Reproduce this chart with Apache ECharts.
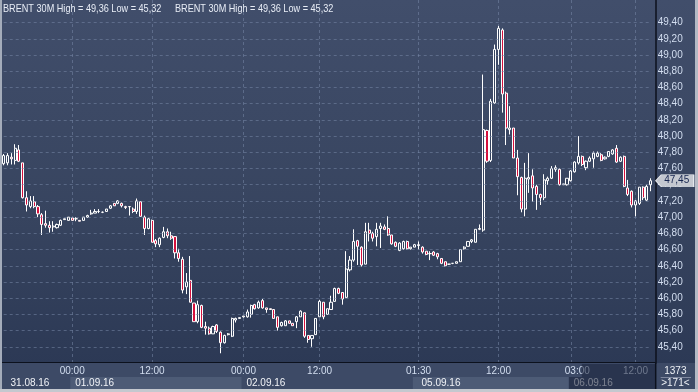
<!DOCTYPE html>
<html>
<head>
<meta charset="utf-8">
<script src="https://cdn.jsdelivr.net/npm/echarts@6/dist/echarts.min.js"></script>
<style>
html,body{margin:0;padding:0;background:#2e3b56;}
#c{width:698px;height:392px;background:linear-gradient(to bottom,#414e6b 0%,#37445f 55%,#2c3955 93%);}
</style>
</head>
<body>
<div id="c"></div>
<script>
const FONT = "'Liberation Sans',Arial,sans-serif";
const instrument = 'BRENT 30M';

const opens = [47.66,47.67,47.74,47.70,47.83,47.67,47.24,47.13,47.19,47.13,47.03,46.92,46.90,46.88,46.87,46.90,46.97,46.96,46.99,46.98,
46.96,46.96,47.00,47.04,47.05,47.07,47.06,47.07,47.11,47.17,47.17,47.17,47.13,47.13,47.10,47.07,47.19,47.00,46.86,46.96,
46.71,46.66,46.75,46.82,46.77,46.76,46.56,46.48,46.14,46.22,45.94,45.71,45.91,45.65,45.63,45.56,45.67,45.58,45.45,45.55,
45.53,45.73,45.75,45.77,45.77,45.80,45.92,45.88,45.97,45.88,45.87,45.86,45.77,45.66,45.66,45.72,45.69,45.71,45.77,45.82,
45.54,45.50,45.55,45.77,45.95,45.80,45.86,45.96,46.12,46.07,46.01,46.35,46.47,46.71,46.63,46.42,46.84,46.80,46.76,46.86,
46.88,46.86,46.78,46.69,46.59,46.61,46.70,46.61,46.63,46.65,46.63,46.58,46.55,46.57,46.55,46.49,46.45,46.42,46.43,46.43,
46.45,46.61,46.64,46.70,46.69,46.85,46.84,48.07,47.70,48.41,49.07,49.31,48.53,48.08,48.10,47.73,47.49,47.10,47.47,47.51,
47.38,47.28,47.24,47.45,47.48,47.59,47.59,47.40,47.40,47.45,47.56,47.67,47.75,47.61,47.69,47.72,47.75,47.77,47.72,47.75,
47.78,47.85,47.69,47.75,47.36,47.32,47.15,47.17,47.37,47.21,47.40];

const closes = [47.76,47.76,47.72,47.85,47.69,47.24,47.15,47.20,47.13,47.04,46.91,46.90,46.87,46.89,46.91,46.96,46.98,47.00,46.96,46.98,
46.95,47.00,47.02,47.05,47.07,47.07,47.06,47.10,47.14,47.14,47.20,47.14,47.12,47.13,47.07,47.20,47.01,46.86,46.98,46.69,
46.67,46.74,46.82,46.77,46.74,46.56,46.49,46.10,46.20,45.95,45.71,45.92,45.64,45.63,45.56,45.65,45.59,45.45,45.54,45.56,
45.75,45.75,45.76,45.78,45.83,45.91,45.87,45.95,45.88,45.86,45.86,45.75,45.64,45.70,45.72,45.69,45.66,45.77,45.84,45.53,
45.49,45.54,45.75,45.96,45.77,45.87,45.95,46.12,46.06,45.99,46.36,46.47,46.70,46.64,46.41,46.82,46.80,46.74,46.85,46.89,
46.85,46.78,46.67,46.64,46.68,46.70,46.61,46.63,46.66,46.66,46.57,46.54,46.55,46.53,46.51,46.43,46.40,46.42,46.43,46.45,
46.60,46.63,46.70,46.72,46.85,46.86,48.08,47.69,48.43,49.07,49.33,48.52,48.10,48.10,47.73,47.50,47.10,47.48,47.49,47.36,
47.28,47.24,47.46,47.48,47.60,47.61,47.40,47.41,47.48,47.57,47.68,47.75,47.65,47.69,47.73,47.79,47.79,47.70,47.74,47.81,
47.83,47.68,47.74,47.38,47.28,47.15,47.20,47.37,47.24,47.38,47.45];

const lows = [47.64,47.64,47.65,47.65,47.68,47.23,47.07,47.11,47.11,47.00,46.78,46.87,46.81,46.82,46.86,46.89,46.97,46.96,46.96,46.95,
46.95,46.96,46.99,47.03,47.05,47.05,47.05,47.07,47.10,47.14,47.16,47.12,47.10,47.02,47.05,47.04,47.01,46.78,46.85,46.69,
46.63,46.63,46.74,46.74,46.72,46.49,46.45,46.06,46.05,45.95,45.71,45.69,45.63,45.55,45.55,45.56,45.57,45.32,45.44,45.54,
45.52,45.70,45.75,45.76,45.76,45.76,45.86,45.87,45.87,45.82,45.86,45.75,45.60,45.65,45.66,45.69,45.66,45.63,45.77,45.51,
45.45,45.40,45.55,45.77,45.74,45.80,45.86,45.96,46.05,45.92,46.00,46.33,46.45,46.41,46.39,46.42,46.70,46.70,46.64,46.62,
46.84,46.77,46.66,46.63,46.58,46.60,46.60,46.60,46.63,46.60,46.55,46.53,46.47,46.52,46.48,46.42,46.39,46.41,46.42,46.43,
46.45,46.60,46.64,46.68,46.69,46.84,46.82,47.67,47.68,48.40,48.88,48.29,47.89,48.02,47.73,47.27,47.06,47.01,47.30,47.19,
47.09,47.15,47.21,47.40,47.47,47.56,47.39,47.40,47.39,47.44,47.55,47.65,47.63,47.58,47.68,47.61,47.74,47.69,47.71,47.74,
47.77,47.67,47.68,47.37,47.26,47.12,47.01,47.15,47.21,47.20,47.32];

const highs = [47.78,47.79,47.79,47.90,47.89,47.67,47.32,47.26,47.26,47.15,47.05,47.08,46.95,46.95,46.92,46.97,46.98,47.00,46.99,47.00,
46.96,47.00,47.03,47.09,47.10,47.10,47.07,47.10,47.15,47.17,47.21,47.18,47.14,47.13,47.12,47.23,47.19,47.02,46.99,46.97,
46.73,46.75,46.88,46.86,46.82,46.76,46.61,46.51,46.31,46.52,45.94,45.97,45.92,45.71,45.65,45.66,45.68,45.59,45.55,45.57,
45.76,45.76,45.76,45.78,45.86,45.92,45.93,45.97,45.99,45.88,45.87,45.86,45.77,45.71,45.73,45.72,45.69,45.78,45.85,45.82,
45.54,45.54,45.75,45.98,45.95,45.87,46.03,46.13,46.13,46.07,46.58,46.52,46.85,46.72,46.64,46.93,46.93,46.82,46.93,46.93,
46.91,47.01,46.78,46.70,46.69,46.71,46.71,46.63,46.67,46.70,46.64,46.58,46.58,46.58,46.56,46.49,46.45,46.42,46.43,46.45,
46.60,46.64,46.70,46.73,46.85,46.91,48.76,48.08,48.46,49.13,49.36,49.33,48.55,48.37,48.10,47.83,47.50,47.67,47.79,47.59,
47.40,47.29,47.53,47.50,47.63,47.64,47.60,47.41,47.48,47.58,47.69,48.00,47.76,47.70,47.75,47.81,47.81,47.79,47.75,47.81,
47.84,47.89,47.75,47.76,47.46,47.33,47.21,47.37,47.38,47.40,47.48];

// bar index -> time tick labels (bottom row 1)
const timeTickBars   = [18, 39, 63, 83, 109, 130, 149, 166];
const timeTickLabels = ['00:00','12:00','00:00','12:00','01:30','12:00','03:00','12:00'];
// trading days
const dayFirstBars  = [0, 18, 63, 108, 149];
const dateLabelBars = [1, 18, 63, 109, 149];
const dateLabels    = ['31.08.16','01.09.16','02.09.16','05.09.16','06.09.16'];
// price grid / labels
const priceTicks = [45.4,45.6,45.8,46.0,46.2,46.4,46.6,46.8,47.0,47.2,47.4,47.6,47.8,48.0,48.2,48.4,48.6,48.8,49.0,49.2,49.4];
const yMin = 45.2, yMax = 49.68, yStep = 0.2;
const totalBarsText = '1373';
const visibleBarsText = '>171<';

const fmt = v => v.toFixed(2).replace('.', ',');
const bars = opens.map((_, i) => String(i));
const ohlc = opens.map((o, i) => [o, closes[i], lows[i], highs[i]]);
const hi = Math.max(...highs), lo = Math.min(...lows);
const titleText = instrument + ' High = ' + fmt(hi) + ' Low = ' + fmt(lo);
const lastIdx = closes.length - 1;

const GRID = 'rgba(118,134,166,0.55)';
const Y_OFFSET = 5;
const FS = 10;

const chart = echarts.init(document.getElementById('c'), null, {renderer: 'canvas'});
const option = {
  animation: false,
  backgroundColor: 'transparent',
  grid: {left: 3.7, right: 47.3, top: 0, bottom: 29, outerBoundsMode: 'none', containLabel: false},
  xAxis: [
    {
      type: 'category', data: bars, boundaryGap: false, gridIndex: 0,
      axisLine: {show: false}, axisTick: {show: false},
      axisLabel: {
        interval: (i) => timeTickBars.includes(i),
        formatter: (v, i) => {
          const k = timeTickBars.indexOf(i);
          if (k < 0) return '';
          return k === 6 ? '{s|' + timeTickLabels[k] + '}' : timeTickLabels[k];
        },
        margin: 3, color: '#d3def0', fontSize: FS, fontFamily: FONT,
        rich: {s: {padding: [0, 0, 0, 13], color: '#d3def0', fontSize: FS, fontFamily: FONT}}
      },
      splitLine: {show: true, interval: (i) => timeTickBars.includes(i), lineStyle: {type: [3, 3], color: GRID, width: 1}}
    },
    {
      type: 'category', data: bars, boundaryGap: false, gridIndex: 0, position: 'bottom', offset: 12,
      axisLine: {show: false}, axisTick: {show: false}, splitLine: {show: false},
      axisLabel: {
        interval: (i) => dateLabelBars.includes(i),
        formatter: (v, i) => { const k = dateLabelBars.indexOf(i); return k < 0 ? '' : dateLabels[k]; },
        align: 'left', padding: [0, 0, 0, 3], margin: 3, color: '#f1f3f7', fontSize: FS, fontFamily: FONT
      }
    }
  ],
  yAxis: {
    type: 'value', position: 'right', offset: Y_OFFSET, min: yMin, max: yMax, interval: yStep, scale: true,
    axisLine: {show: true, lineStyle: {color: '#0c111d', width: 1.5}},
    axisTick: {show: false},
    splitLine: {show: false},
    axisLabel: {
      margin: 2, color: '#d3def0', fontSize: FS, fontFamily: FONT,
      formatter: v => priceTicks.some(t => Math.abs(t - v) < 1e-6) ? fmt(v) : ''
    }
  },
  series: [
    {
      type: 'line', data: [], z: 1, silent: true,
      markLine: {
        silent: true, symbol: ['none', 'none'], label: {show: false}, animation: false,
        lineStyle: {type: [3, 3], color: GRID, width: 1},
        data: priceTicks.map(v => ({yAxis: v}))
      }
    },
    {
      type: 'candlestick', data: ohlc, z: 3, clip: false, barWidth: 2.6,
      itemStyle: {
        color: '#36445f', color0: '#d6103c',
        borderColor: '#ffffff', borderColor0: '#ffffff', borderColorDoji: '#ffffff', borderWidth: 1
      },
      markPoint: {
        silent: true, animation: false,
        symbol: 'path://M0,6L6,0L40,0L40,12L6,12Z',
        symbolSize: [38, 12], symbolOffset: [24, 0],
        itemStyle: {color: '#c4c8d0', borderColor: '#e4e7ec', borderWidth: 0.8},
        label: {show: true, position: 'inside', offset: [2, 0], color: '#172650', fontSize: FS, fontFamily: FONT,
                formatter: p => fmt(p.value)},
        data: [{coord: [lastIdx, closes[lastIdx]], value: closes[lastIdx]}]
      }
    }
  ]
};
chart.setOption(option);

// decorative panels, aligned with the axis scale
const px = i => chart.convertToPixel({xAxisIndex: 0}, i);
const step = px(1) - px(0);
const edge = i => px(i) - step / 2;
const yb = Math.round(chart.convertToPixel({yAxisIndex: 0}, yMin));
const axisX = px(lastIdx) + Y_OFFSET;
const W = 698, H = 392;
const titleStyle = {text: titleText, fill: '#e8edf6', fontSize: 11, fontFamily: FONT, verticalAlign: 'middle'};
const g = [
  {type: 'text', z: 150, x: 3, y: 8.5, scaleX: 0.83, style: titleStyle},
  {type: 'text', z: 150, x: 175, y: 8.5, scaleX: 0.83, style: titleStyle},
  {type: 'rect', z: -10, shape: {x: 0, y: yb, width: W, height: H - yb}, style: {fill: '#3d4a66'}},
  {type: 'rect', z: -9, shape: {x: edge(dayFirstBars[1]), y: yb + 14, width: edge(dayFirstBars[2]) - edge(dayFirstBars[1]), height: 12}, style: {fill: '#4d5b76'}},
  {type: 'rect', z: -9, shape: {x: edge(dayFirstBars[3]), y: yb + 14, width: edge(dayFirstBars[4]) - edge(dayFirstBars[3]), height: 12}, style: {fill: '#4d5b76'}},
  {type: 'rect', z: 100, shape: {x: edge(dayFirstBars[4]), y: yb + 14, width: axisX - edge(dayFirstBars[4]), height: 12}, style: {fill: 'rgba(26,35,58,0.55)'}},
  {type: 'rect', z: 100, shape: {x: px(timeTickBars[6]) + 11, y: yb + 1, width: axisX - px(timeTickBars[6]) - 11, height: 13}, style: {fill: 'rgba(26,35,58,0.55)'}},
  {type: 'line', z: 101, shape: {x1: 0, y1: yb - 0.5, x2: axisX, y2: yb - 0.5}, style: {stroke: '#0c111d', lineWidth: 1}},
  {type: 'line', z: 101, shape: {x1: axisX, y1: yb, x2: axisX, y2: H - 3}, style: {stroke: '#0c111d', lineWidth: 1.5}},
  {type: 'text', z: 101, x: (axisX + W - 3) / 2, y: yb + 8, style: {text: totalBarsText, fill: '#eef1f6', fontSize: FS, fontFamily: FONT, align: 'center', verticalAlign: 'middle'}},
  {type: 'line', z: 101, shape: {x1: axisX + 5, y1: yb + 14.5, x2: W - 7, y2: yb + 14.5}, style: {stroke: '#8089a0', lineWidth: 1}},
  {type: 'text', z: 101, x: (axisX + W - 3) / 2, y: yb + 20, style: {text: visibleBarsText, fill: '#eef1f6', fontSize: FS, fontFamily: FONT, align: 'center', verticalAlign: 'middle'}},
  {type: 'rect', z: 200, shape: {x: 0, y: 0, width: 2, height: H}, style: {fill: '#a4acba'}},
  {type: 'rect', z: 200, shape: {x: W - 3, y: 0, width: 3, height: H}, style: {fill: '#b4bac5'}},
  {type: 'rect', z: 200, shape: {x: 0, y: H - 3, width: W, height: 3}, style: {fill: '#c4c8cf'}}
];
chart.setOption({graphic: {elements: g}});
</script>
</body>
</html>
